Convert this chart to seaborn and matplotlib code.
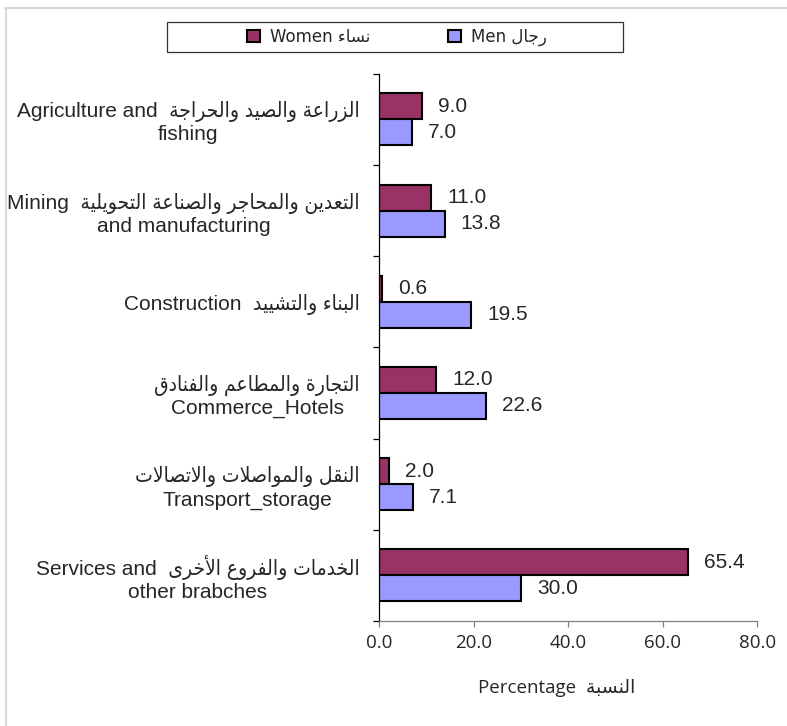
import pandas as pd
import seaborn as sns
import matplotlib.pyplot as plt
from matplotlib.patches import Patch, Rectangle
from matplotlib.lines import Line2D
from matplotlib.ticker import FormatStrFormatter, FixedLocator

# Data
sectors = ["Agriculture", "Mining", "Construction", "Commerce", "Transport", "Services"]
women = [9.0, 11.0, 0.6, 12.0, 2.0, 65.4]
men = [7.0, 13.8, 19.5, 22.6, 7.1, 30.0]

ar_sectors = ["الزراعة والصيد والحراجة", "التعدين والمحاجر والصناعة التحويلية", "البناء والتشييد",
              "التجارة والمطاعم والفنادق", "النقل والمواصلات والاتصالات", "الخدمات والفروع الأخرى"]
en_sectors = [("Agriculture and", "fishing"), ("Mining", "and manufacturing"), ("Construction", None),
              (None, "Commerce_Hotels"), (None, "Transport_storage"), ("Services and", "other brabches")]
ar_women = "نساء"
ar_men = "رجال"
ar_xlabel = "النسبة"

women_color = "#993366"
men_color = "#9999FF"

# matplotlib has no arabic shaping, so map letters to presentation forms and reverse
# (base codepoint, kind) kind 0 = no joining, 1 = joins previous only, 2 = both sides
AR_FORMS = {
    'ء': (0xFE80, 0), 'آ': (0xFE81, 1), 'أ': (0xFE83, 1), 'ؤ': (0xFE85, 1), 'إ': (0xFE87, 1),
    'ئ': (0xFE89, 2), 'ا': (0xFE8D, 1), 'ب': (0xFE8F, 2), 'ة': (0xFE93, 1), 'ت': (0xFE95, 2),
    'ث': (0xFE99, 2), 'ج': (0xFE9D, 2), 'ح': (0xFEA1, 2), 'خ': (0xFEA5, 2), 'د': (0xFEA9, 1),
    'ذ': (0xFEAB, 1), 'ر': (0xFEAD, 1), 'ز': (0xFEAF, 1), 'س': (0xFEB1, 2), 'ش': (0xFEB5, 2),
    'ص': (0xFEB9, 2), 'ض': (0xFEBD, 2), 'ط': (0xFEC1, 2), 'ظ': (0xFEC5, 2), 'ع': (0xFEC9, 2),
    'غ': (0xFECD, 2), 'ف': (0xFED1, 2), 'ق': (0xFED5, 2), 'ك': (0xFED9, 2), 'ل': (0xFEDD, 2),
    'م': (0xFEE1, 2), 'ن': (0xFEE5, 2), 'ه': (0xFEE9, 2), 'و': (0xFEED, 1), 'ى': (0xFEEF, 1),
    'ي': (0xFEF1, 2),
}
LAM_ALEF = {'آ': 0xFEF5, 'أ': 0xFEF7, 'إ': 0xFEF9, 'ا': 0xFEFB}


def ar(text):
    units = []
    i = 0
    while i < len(text):
        ch = text[i]
        if ch == 'ل' and i + 1 < len(text) and text[i + 1] in LAM_ALEF:
            units.append((LAM_ALEF[text[i + 1]], 1))
            i += 2
        elif ch in AR_FORMS:
            units.append(AR_FORMS[ch])
            i += 1
        else:
            units.append((ch, None))
            i += 1
    out = []
    for k, (base, kind) in enumerate(units):
        if kind is None:
            out.append(base)
            continue
        prev_j = k > 0 and units[k - 1][1] == 2
        next_j = k + 1 < len(units) and units[k + 1][1] in (1, 2)
        if kind == 0:
            off = 0
        elif kind == 1:
            off = 1 if prev_j else 0
        else:
            off = 3 if (prev_j and next_j) else 1 if prev_j else 2 if next_j else 0
        out.append(chr(base + off))
    return ''.join(reversed(out))


def make_label(a, e):
    first, second = e
    if first is None:
        return ar(a) + "\n" + second
    line1 = first + "  " + ar(a)
    return line1 if second is None else line1 + "\n" + second


labels = [make_label(a, e) for a, e in zip(ar_sectors, en_sectors)]

df = pd.DataFrame({
    "sector": sectors * 2,
    "sex": ["Women"] * len(sectors) + ["Men"] * len(sectors),
    "value": women + men,
})

sns.set_style("white")
plt.rcParams['font.family'] = ['Liberation Sans', 'DejaVu Sans']

W, H = 787, 726
fig = plt.figure(figsize=(W / 100, H / 100), dpi=100)
ax = fig.add_axes([379.3 / W, 1 - 621 / H, 378 / W, 547.3 / H])

sns.barplot(data=df, x="value", y="sector", hue="sex", hue_order=["Women", "Men"],
            order=sectors, palette=[women_color, men_color], saturation=1, orient="h",
            width=0.57, edgecolor="black", linewidth=1.5, errorbar=None, legend=False, ax=ax)

ax.set_xlim(0, 80)
ax.set_ylim(5.5, -0.5)
ax.set_xticks([0, 20, 40, 60, 80])
ax.xaxis.set_major_formatter(FormatStrFormatter('%.1f'))
for t in ax.get_xticklabels():
    t.set_family(['Open Sans', 'DejaVu Sans'])
    t.set_fontsize(13.5)
ax.tick_params(axis='x', bottom=True, direction='out', length=4, width=0.9,
               color='#808080', pad=5)

# category labels at band centres, tick marks at band boundaries
ax.set_yticks(range(len(sectors)))
ax.set_yticklabels(labels, fontsize=15, linespacing=1.2)
for t in ax.get_yticklabels():
    t.set_multialignment('center')
    t.set_fontstretch('condensed')
ax.tick_params(axis='y', which='major', left=True, length=0, pad=14)
ax.yaxis.set_minor_locator(FixedLocator([-0.5 + i for i in range(len(sectors) + 1)]))
ax.tick_params(axis='y', which='minor', left=True, direction='out', length=4.5,
               width=0.9, color='black')

for side in ['top', 'right']:
    ax.spines[side].set_visible(False)
ax.spines['left'].set_color('black')
ax.spines['left'].set_linewidth(0.9)
ax.spines['bottom'].set_color('#808080')
ax.spines['bottom'].set_linewidth(0.9)

for cont in ax.containers:
    ax.bar_label(cont, fmt='%.1f', padding=11.5, fontsize=15)

ax.set_ylabel("")
ax.set_xlabel("Percentage  " + ar(ar_xlabel), fontsize=13.5, family=['Open Sans', 'DejaVu Sans'])
ax.xaxis.set_label_coords((556.5 - 379.3) / 378, (621 - 688) / 547.3)
ax.xaxis.label.set_va('center')

# legend with its own box
handles = [Patch(facecolor=women_color, edgecolor='black', linewidth=1.5),
           Patch(facecolor=men_color, edgecolor='black', linewidth=1.5)]
fig.legend(handles, ["Women " + ar(ar_women), "Men " + ar(ar_men)], loc='center',
           bbox_to_anchor=(397 / W, 1 - 37 / H), ncol=2, frameon=False,
           handlelength=0.75, handleheight=0.75, handletextpad=0.6, columnspacing=4.7,
           prop={'family': ['DejaVu Sans'], 'size': 12})
fig.add_artist(Rectangle((167 / W, 1 - 52 / H), 456 / W, 30 / H, transform=fig.transFigure,
                         fill=False, edgecolor='#303030', linewidth=0.9))

# light frame along top and left edge
fig.add_artist(Line2D([5 / W, 1], [1 - 8 / H] * 2, transform=fig.transFigure,
                      color='#d9d9d9', linewidth=1.5))
fig.add_artist(Line2D([6 / W] * 2, [0, 1 - 8 / H], transform=fig.transFigure,
                      color='#d9d9d9', linewidth=1.5))

fig.savefig('out.png', dpi=100)
